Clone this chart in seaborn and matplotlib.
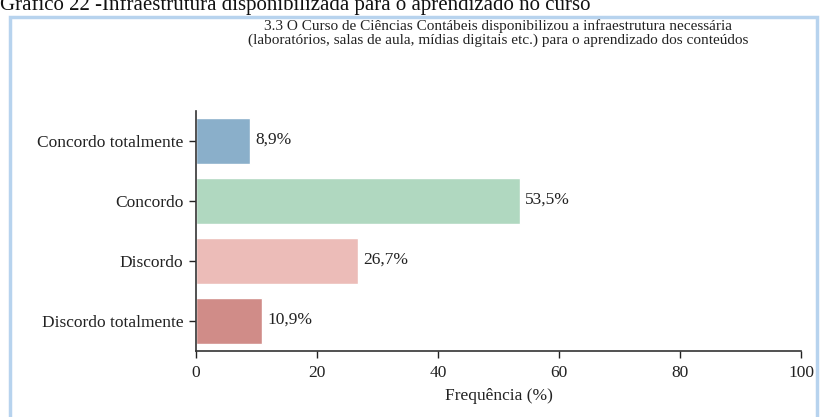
import matplotlib
matplotlib.use("Agg")
import matplotlib.pyplot as plt
import matplotlib.patches as patches
import seaborn as sns
import pandas as pd

# dados
categorias = ["Concordo totalmente", "Concordo", "Discordo", "Discordo totalmente"]
valores = [8.9, 53.5, 26.7, 10.9]
rotulos = ["8,9%", "53,5%", "26,7%", "10,9%"]
cores = ["#8aafca", "#b0d8c0", "#ecbcb8", "#d08c88"]
ticks_x = [0, 20, 40, 60, 80, 100]

df = pd.DataFrame({"Categoria": categorias, "Valor": valores})

sns.set_style("ticks")
plt.rcParams["font.family"] = ["Liberation Serif", "DejaVu Serif"]

fig = plt.figure(figsize=(8.21, 4.17), dpi=100)
W, H = 821, 417
ax = fig.add_axes([196 / W, 1 - 351 / H, (801 - 196) / W, (351 - 111) / H])

sns.barplot(data=df, x="Valor", y="Categoria", hue="Categoria", palette=cores,
            width=0.78, legend=False, ax=ax, saturation=1)

for i, (v, r) in enumerate(zip(valores, rotulos)):
    ax.text(v + 0.9, i - 0.02, r, va="center", ha="left", fontsize=12.5, color="#222222")

ax.set_xlim(0, 100)
ax.set_ylim(3.5, -0.5)
ax.set_xticks(ticks_x)
ax.set_xlabel("Frequência (%)", fontsize=12.5, color="#222222", labelpad=5)
ax.set_ylabel("")
ax.tick_params(axis="both", labelsize=12.5, colors="#222222", length=5, width=1)
ax.tick_params(axis="x", pad=5)
ax.tick_params(axis="y", pad=4)
sns.despine(ax=ax)
for s in ["left", "bottom"]:
    ax.spines[s].set_color("#333333")
    ax.spines[s].set_linewidth(1.2)

fig.text(498 / W, 1 - 33 / H,
         "3.3 O Curso de Ciências Contábeis disponibilizou a infraestrutura necessária\n"
         "(laboratórios, salas de aula, mídias digitais etc.) para o aprendizado dos conteúdos",
         ha="center", va="center", fontsize=11, color="#222222", linespacing=1.1)

# legenda do documento (cortada no topo)
fig.text(0, 1 - 10 / H, "Gráfico 22 -Infraestrutura disponibilizada para o aprendizado no curso",
         ha="left", va="baseline", fontsize=15, color="#111111")

# moldura azul
fig.patches.append(patches.Rectangle((10 / W, -0.05), (817 - 10) / W, 1.05 - 17 / H,
                                     transform=fig.transFigure, fill=False,
                                     edgecolor="#b7d3ee", linewidth=2.5))

fig.savefig("out.png", dpi=100)
